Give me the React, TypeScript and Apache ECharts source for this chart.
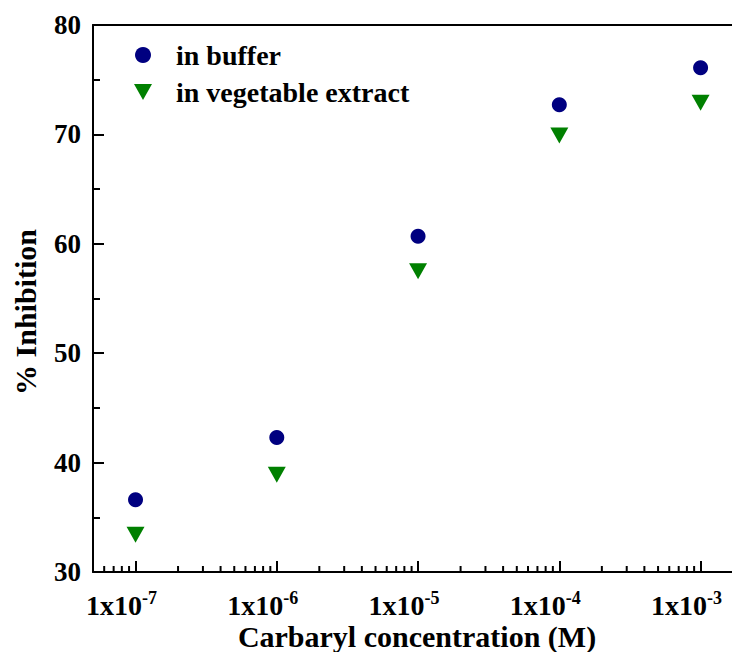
import React, { useEffect, useRef } from "react";
import * as echarts from "echarts";

// Carbaryl concentrations (M) and the measured inhibition at each
const concentrations = [1e-7, 1e-6, 1e-5, 1e-4, 1e-3];
const bufferInhibition = [36.6, 42.3, 60.7, 72.7, 76.1];
const extractInhibition = [33.4, 38.9, 57.5, 69.9, 72.9];

const seriesNames = ["in buffer", "in vegetable extract"];
const yTicks = [30, 40, 50, 60, 70, 80];

const xMin = 5e-8;
const xMax = 1.84e-3;

// minor log ticks (2..9 within each decade) inside the axis range
const minorTicks: number[] = [];
for (let e = -8; e <= -3; e++) {
  for (let m = 2; m <= 9; m++) {
    const v = m * Math.pow(10, e);
    if (v > xMin && v < xMax) minorTicks.push(v);
  }
}

const FONT = "Liberation Serif";

export default function App() {
  const ref = useRef<HTMLDivElement>(null);

  useEffect(() => {
    if (!ref.current) return;
    const chart = echarts.init(ref.current, undefined, { renderer: "svg" });

    const expLabel = (v: number) => {
      const e = Math.round(Math.log10(v));
      if (Math.abs(Math.log10(v) - e) > 1e-6) return "";
      return `{b|1x10}{s|${e}}`;
    };

    chart.setOption({
      animation: false,
      backgroundColor: "#ffffff",
      grid: {
        left: 93,
        top: 25,
        width: 645,
        bottom: 80,
        containLabel: false,
        outerBoundsMode: "none",
      },
      legend: {
        orient: "vertical",
        left: 129,
        top: 36,
        itemWidth: 18,
        itemHeight: 16,
        itemGap: 9,
        data: [
          { name: seriesNames[0], icon: "circle" },
          { name: seriesNames[1], icon: "path://M0,0 L18,0 L9,16 Z" },
        ],
        textStyle: {
          fontFamily: FONT,
          fontWeight: "bold",
          fontSize: 28,
          color: "#000",
          lineHeight: 28,
          padding: [0, 0, 0, 19],
        },
      },
      xAxis: [
        {
          type: "log",
          logBase: 10,
          min: xMin,
          max: xMax,
          position: "bottom",
          axisLine: { show: true, lineStyle: { color: "#000", width: 2 } },
          axisTick: { show: true, inside: true, length: 11, lineStyle: { color: "#000", width: 2 } },
          splitLine: { show: false },
          axisLabel: {
            margin: 17,
            formatter: (v: number) => expLabel(v),
            padding: [0, 28, 0, 0],
            rich: {
              b: { fontFamily: FONT, fontWeight: "bold", fontSize: 28, color: "#000" },
              s: {
                fontFamily: FONT,
                fontWeight: "bold",
                fontSize: 18,
                color: "#000",
                verticalAlign: "top",
                padding: [0, 0, 15, 0],
              },
            },
          },
        },
        {
          type: "log",
          logBase: 10,
          min: xMin,
          max: xMax,
          position: "top",
          axisLine: { show: true, lineStyle: { color: "#000", width: 2 } },
          axisTick: { show: false },
          axisLabel: { show: false },
          splitLine: { show: false },
        },
      ],
      yAxis: {
        type: "value",
        min: yTicks[0],
        max: yTicks[yTicks.length - 1],
        interval: 10,
        axisLine: { show: true, lineStyle: { color: "#000", width: 2 } },
        axisTick: { show: true, inside: true, length: 11, lineStyle: { color: "#000", width: 2 } },
        minorTick: { show: true, splitNumber: 2, length: 7, lineStyle: { color: "#000", width: 2 } },
        splitLine: { show: false },
        axisLabel: {
          margin: 12,
          fontFamily: FONT,
          fontWeight: "bold",
          fontSize: 27,
          color: "#000",
        },
      },
      series: [
        {
          name: seriesNames[0],
          type: "scatter",
          symbol: "circle",
          symbolSize: 15,
          itemStyle: { color: "#000080", opacity: 1 },
          data: concentrations.map((c, i) => [c, bufferInhibition[i]]),
        },
        {
          name: seriesNames[1],
          type: "scatter",
          symbol: "triangle",
          symbolRotate: 180,
          symbolSize: [18, 16],
          itemStyle: { color: "#008000", opacity: 1 },
          data: concentrations.map((c, i) => [c, extractInhibition[i]]),
        },
        {
          name: "minor ticks",
          type: "custom",
          silent: true,
          clip: false,
          data: minorTicks.map((v) => [v, yTicks[0]]),
          renderItem: (_params: any, api: any) => {
            const p = api.coord([api.value(0), api.value(1)]);
            return {
              type: "line",
              shape: { x1: p[0], y1: p[1], x2: p[0], y2: p[1] - 6 },
              style: { stroke: "#000", lineWidth: 2 },
            };
          },
        },
      ],
      graphic: [
        {
          type: "text",
          x: 25,
          y: 312,
          rotation: Math.PI / 2,
          style: {
            text: "% Inhibition",
            font: `bold 30px "${FONT}"`,
            fill: "#000",
            align: "center",
            verticalAlign: "middle",
          },
        },
        {
          type: "text",
          x: 417,
          y: 636,
          style: {
            text: "Carbaryl concentration (M)",
            font: `bold 30px "${FONT}"`,
            fill: "#000",
            align: "center",
            verticalAlign: "middle",
          },
        },
      ],
    });

    return () => chart.dispose();
  }, []);

  return (
    <div
      ref={ref}
      style={{ position: "fixed", left: 0, top: 0, width: 732, height: 652 }}
    />
  );
}
